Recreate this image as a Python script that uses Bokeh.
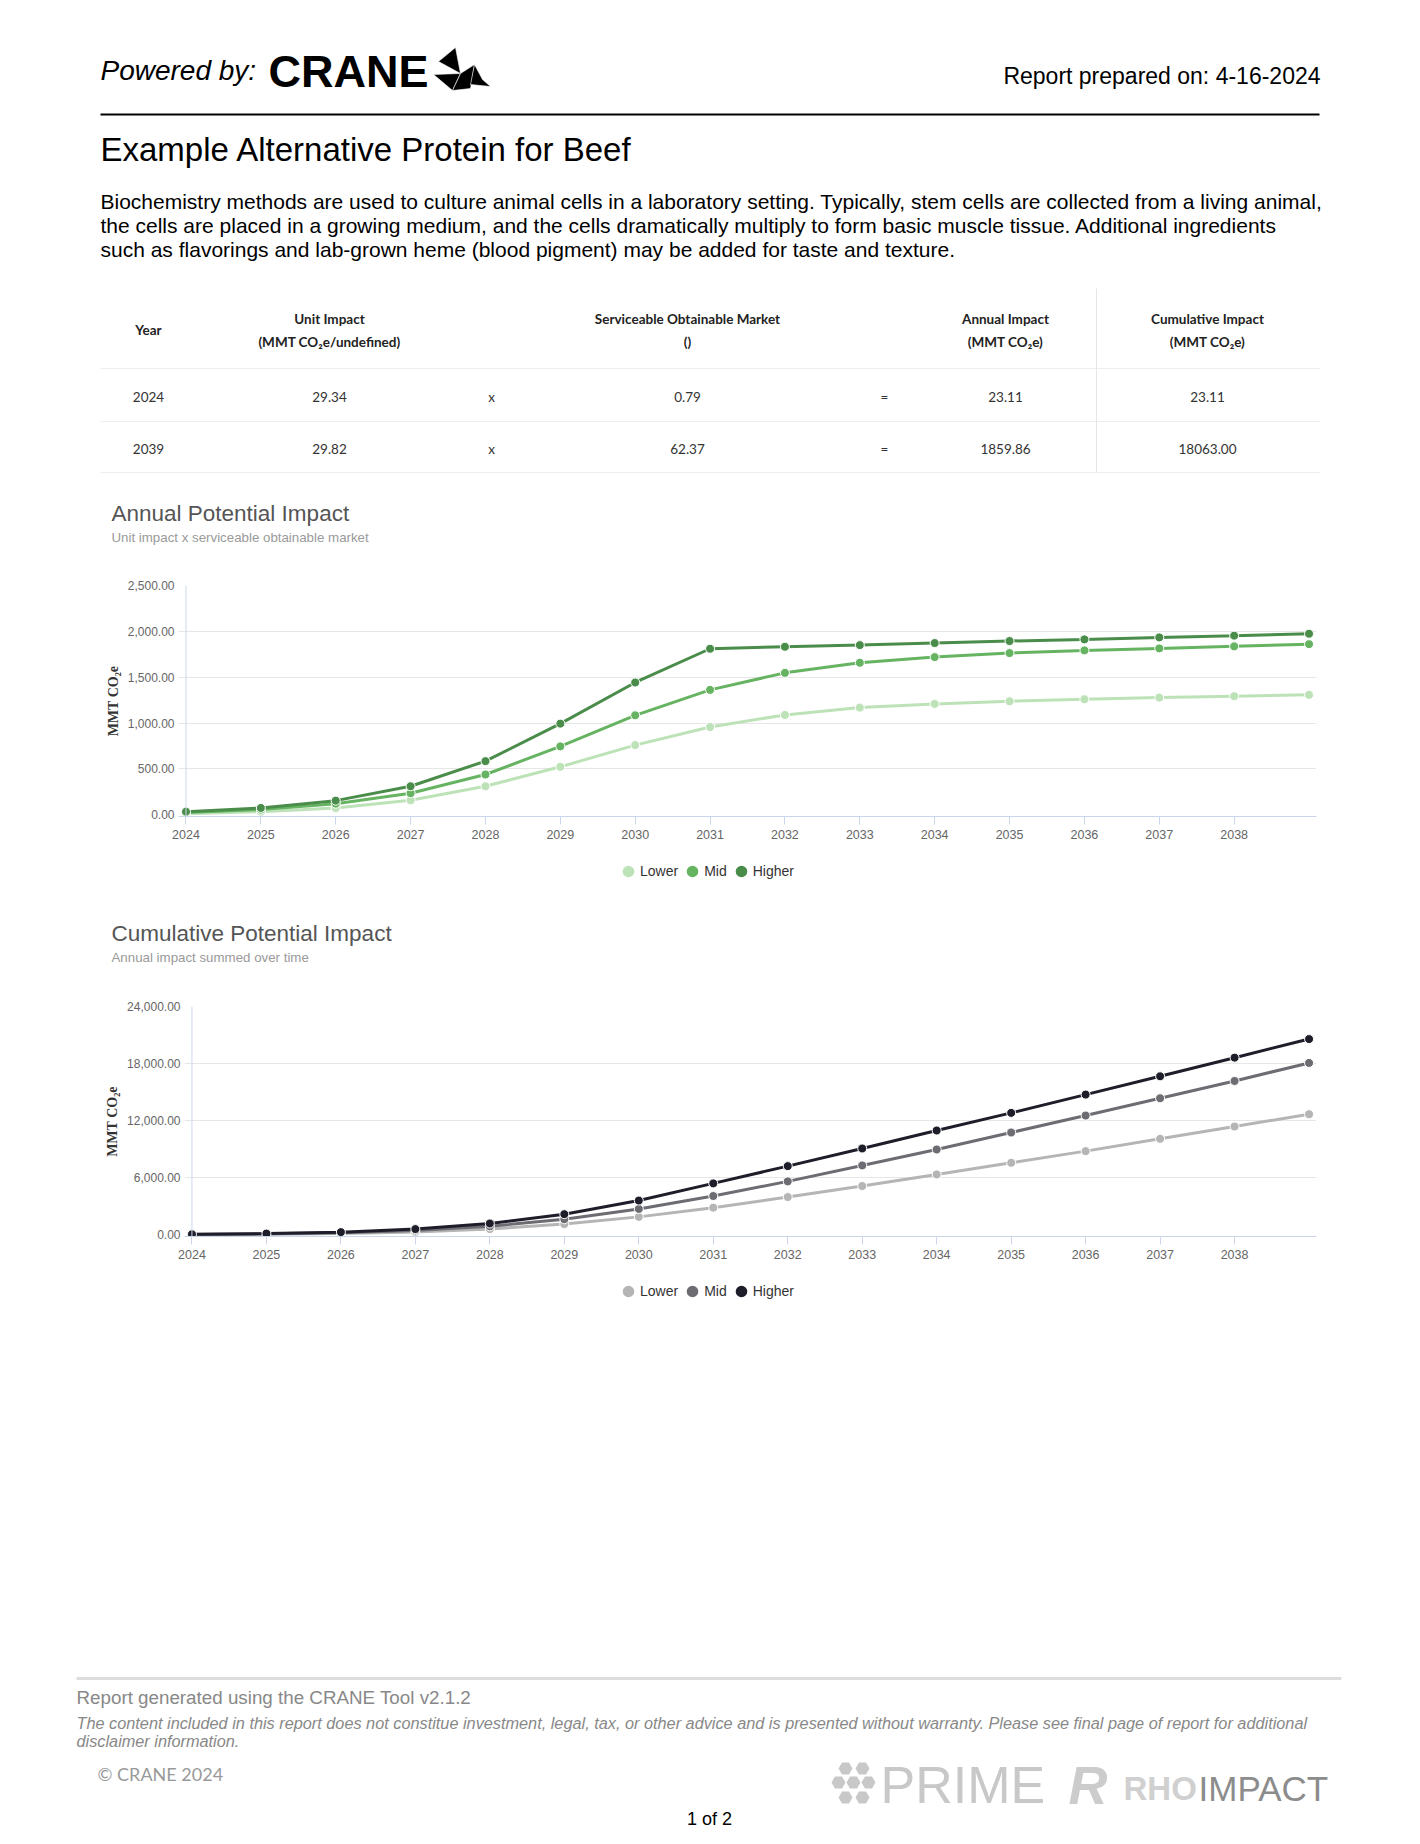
from bokeh.plotting import figure
from bokeh.models import Range1d, FixedTicker, NumeralTickFormatter, Legend, LegendItem, Span
from bokeh.layouts import column
from bokeh.core.properties import value
from bokeh.embed import file_html
from bokeh.resources import INLINE

# ---------------- data ----------------
years = [2024, 2025, 2026, 2027, 2028, 2029, 2030, 2031, 2032, 2033, 2034, 2035, 2036, 2037, 2038, 2039]
x_tick_years = [2024, 2025, 2026, 2027, 2028, 2029, 2030, 2031, 2032, 2033, 2034, 2035, 2036, 2037, 2038]
series_names = ["Lower", "Mid", "Higher"]

annual_lower = [11, 33, 73, 157, 310, 522, 759, 956, 1088, 1168, 1208, 1237, 1259, 1277, 1292, 1307]
annual_mid = [23, 55, 120, 234, 438, 745, 1084, 1361, 1547, 1657, 1719, 1763, 1792, 1814, 1836, 1860]
annual_higher = [33, 73, 153, 310, 584, 993, 1442, 1810, 1832, 1850, 1872, 1894, 1912, 1934, 1953, 1974]

cum_lower = [11, 44, 117, 274, 584, 1106, 1865, 2834, 3954, 5109, 6333, 7558, 8782, 10077, 11372, 12666]
cum_mid = [23, 78, 198, 432, 870, 1615, 2700, 4059, 5598, 7278, 8957, 10742, 12526, 14346, 16165, 18063]
cum_higher = [33, 105, 260, 580, 1170, 2150, 3580, 5389, 7208, 9062, 10952, 12807, 14731, 16656, 18616, 20575]

annual_y_ticks = [0, 500, 1000, 1500, 2000, 2500]
cum_y_ticks = [0, 6000, 12000, 18000, 24000]

table_headers = [("Year", ""), ("Unit Impact", "(MMT CO\u2082e/undefined)"),
                 ("Serviceable Obtainable Market", "()"),
                 ("Annual Impact", "(MMT CO\u2082e)"), ("Cumulative Impact", "(MMT CO\u2082e)")]
table_years = ["2024", "2039"]
unit_impact = ["29.34", "29.82"]
som_values = ["0.79", "62.37"]
annual_impact = ["23.11", "1859.86"]
cumulative_impact = ["23.11", "18063.00"]

annual_colors = ["#bde2b8", "#66b462", "#4a8c4a"]
cum_colors = ["#b5b5b5", "#6c6c72", "#1e1e2b"]

W = 1404
NAN = float("nan")


def text_fig(top, bottom):
    p = figure(width=W, height=bottom - top, x_range=Range1d(0, W), y_range=Range1d(bottom, top),
               output_backend="svg", toolbar_location=None, x_axis_type=None, y_axis_type=None,
               min_border=0, min_border_left=0, min_border_right=0, min_border_top=0,
               min_border_bottom=0, outline_line_color=None, background_fill_color="white",
               border_fill_color="white", frame_align=False)
    p.grid.visible = False
    return p


def txt(p, x, y, s, size, color="#000000", align="left", font="Liberation Sans", style="normal"):
    p.text(x=[x], y=[y], text=[s], text_font=value(font), text_font_size=size, text_color=color,
           text_align=align, text_baseline="middle", text_font_style=style)


def hline(p, x0, x1, y, color, width):
    p.segment(x0=[x0], y0=[y], x1=[x1], y1=[y], line_color=color, line_width=width)


def series_legend(p, colors, vy):
    items = []
    for name, c in zip(series_names, colors):
        r = p.scatter(x=[NAN], y=[NAN], marker="circle", fill_color=c, line_color=c, line_width=2)
        items.append(LegendItem(label=name, renderers=[r]))
    lg = Legend(items=items, orientation="horizontal", location=(616, vy),
                glyph_width=24, glyph_height=28, label_standoff=0, spacing=2, padding=0,
                margin=0, border_line_color=None, background_fill_alpha=0,
                label_text_font="Liberation Sans", label_text_font_size="14px",
                label_text_color="#333333")
    p.add_layout(lg)


# ---------------- header + table ----------------
f1 = text_fig(0, 575)
txt(f1, 100, 70, "Powered by:", "28px", "#000000", style="italic")
txt(f1, 268, 71, "CRANE", "45px", "#000000", style="bold")
bird_xs = [[438, 455, 460], [433, 460, 452], [460, 474, 470, 452], [470, 474, 482, 490]]
bird_ys = [[61, 47, 73], [74, 73, 90], [73, 64, 88, 90], [84, 64, 79, 86]]
f1.patches(bird_xs, bird_ys, fill_color="#000000", line_color="white", line_width=0.6)
txt(f1, 1320, 75, "Report prepared on: 4-16-2024", "23px", "#000000", align="right")
hline(f1, 100, 1319, 114, "#000000", 2)
txt(f1, 100, 149, "Example Alternative Protein for Beef", "33px", "#000000")
para = ["Biochemistry methods are used to culture animal cells in a laboratory setting. Typically, stem cells are collected from a living animal,",
        "the cells are placed in a growing medium, and the cells dramatically multiply to form basic muscle tissue. Additional ingredients",
        "such as flavorings and lab-grown heme (blood pigment) may be added for taste and texture."]
for i, line in enumerate(para):
    txt(f1, 100, 201 + 24 * i, line, "21px", "#000000")

col_x = [148, 329, 687, 1005, 1207]
for cx, (h1, h2) in zip(col_x, table_headers):
    if h2:
        txt(f1, cx, 318, h1, "13.5px", "#222222", align="center", font="Lato", style="bold")
        txt(f1, cx, 341, h2, "13.5px", "#222222", align="center", font="Lato", style="bold")
    else:
        txt(f1, cx, 329, h1, "13.5px", "#222222", align="center", font="Lato", style="bold")
row_y = [396, 448]
for i, ry in enumerate(row_y):
    vals = [table_years[i], unit_impact[i], som_values[i], annual_impact[i], cumulative_impact[i]]
    for cx, v in zip(col_x, vals):
        txt(f1, cx, ry, v, "13.5px", "#333333", align="center", font="Lato")
    txt(f1, 491, ry, "x", "13.5px", "#333333", align="center", font="Lato")
    txt(f1, 884, ry, "=", "13.5px", "#333333", align="center", font="Lato")
for ly in [368, 421, 472]:
    hline(f1, 100, 1319, ly, "#eeeeee", 1)
f1.segment(x0=[1096], y0=[288], x1=[1096], y1=[472], line_color="#e6e6e6", line_width=1)

txt(f1, 111, 513, "Annual Potential Impact", "22.5px", "#555555")
txt(f1, 111, 537, "Unit impact x serviceable obtainable market", "13.3px", "#9a9a9a")


# ---------------- charts ----------------
def chart(height, top_b, bottom_b, left_b, right_b, y_start, y_end, ticks, series, colors):
    p = figure(width=W, height=height, x_range=Range1d(2023.9, 2039.1), y_range=Range1d(y_start, y_end),
               output_backend="svg", toolbar_location=None, min_border_left=left_b,
               min_border_right=right_b, min_border_top=top_b, min_border_bottom=bottom_b,
               outline_line_color=None, background_fill_color="white", border_fill_color="white",
               frame_align=False)
    p.xgrid.grid_line_color = None
    p.ygrid.ticker = FixedTicker(ticks=ticks[1:])
    p.ygrid.grid_line_color = "#e6e6e6"
    p.ygrid.grid_line_width = 1

    p.xaxis.ticker = FixedTicker(ticks=x_tick_years)
    p.xaxis.major_label_overrides = {y: str(y) for y in x_tick_years}
    p.xaxis.axis_line_color = "#ccd6eb"
    p.xaxis.major_tick_line_color = "#ccd6eb"
    p.xaxis.major_tick_out = 8
    p.xaxis.major_tick_in = 0
    p.xaxis.minor_tick_line_color = None
    p.xaxis.major_label_standoff = 5
    p.xaxis.major_label_text_font = "Liberation Sans"
    p.xaxis.major_label_text_font_size = "12.5px"
    p.xaxis.major_label_text_color = "#666666"

    p.yaxis.ticker = FixedTicker(ticks=ticks)
    p.yaxis.formatter = NumeralTickFormatter(format="0,0.00")
    p.yaxis.axis_line_color = None
    p.yaxis.major_tick_line_color = None
    p.yaxis.minor_tick_line_color = None
    p.yaxis.major_tick_out = 0
    p.yaxis.major_tick_in = 0
    p.yaxis.major_label_standoff = 4
    p.yaxis.major_label_text_font = "Liberation Sans"
    p.yaxis.major_label_text_font_size = "12px"
    p.yaxis.major_label_text_color = "#666666"
    p.yaxis.axis_label = "MMT CO\u2082e"
    p.yaxis.axis_label_text_font = "Liberation Serif"
    p.yaxis.axis_label_text_font_style = "bold"
    p.yaxis.axis_label_text_font_size = "14px"
    p.yaxis.axis_label_text_color = "#333333"
    p.yaxis.axis_label_standoff = 4

    p.add_layout(Span(location=2024, dimension="height", line_color="#ccd6eb", line_width=1))

    for name, vals, c in zip(series_names, series, colors):
        p.line(years, vals, line_color=c, line_width=3)
        p.scatter(years, vals, size=9, fill_color=c, line_color="white", line_width=1)
    return p


c1 = chart(275, 10, 34, 178, 88, -20, 2500, annual_y_ticks,
           [annual_lower, annual_mid, annual_higher], annual_colors)

f2 = text_fig(850, 990)
series_legend(f2, annual_colors, 105)
txt(f2, 111, 933, "Cumulative Potential Impact", "22.5px", "#555555")
txt(f2, 111, 957, "Annual impact summed over time", "13.3px", "#9a9a9a")

c2 = chart(282, 16, 36, 184, 88, -200, 24000, cum_y_ticks,
           [cum_lower, cum_mid, cum_higher], cum_colors)

# ---------------- footer ----------------
f3 = text_fig(1272, 1840)
series_legend(f3, cum_colors, 535)
hline(f3, 76, 1341, 1678, "#dddddd", 3)
txt(f3, 76, 1697, "Report generated using the CRANE Tool v2.1.2", "18.8px", "#888888")
txt(f3, 76, 1722, "The content included in this report does not constitue investment, legal, tax, or other advice and is presented without warranty. Please see final page of report for additional",
    "16.3px", "#888888", style="italic")
txt(f3, 76, 1740, "disclaimer information.", "16.3px", "#888888", style="italic")
txt(f3, 97, 1773, "\u00a9 CRANE 2024", "18px", "#999999", font="Lato")
hex_x = [845, 862, 838, 853, 868, 845, 862]
hex_y = [1768, 1768, 1782, 1782, 1782, 1797, 1797]
f3.scatter(hex_x, hex_y, marker="hex", size=14, fill_color="#c8c8c8", line_color=None)
txt(f3, 880, 1784, "PRIME", "52px", "#c8c8c8")
txt(f3, 1068, 1784, "R", "54px", "#cccccc", style="bold italic")
txt(f3, 1123, 1788, "RHO", "33px", "#d0d0d0", style="bold")
txt(f3, 1198, 1788, "IMPACT", "35px", "#8c8c8c")
txt(f3, 709, 1818, "1 of 2", "18px", "#000000", align="center")

layout = column(f1, c1, f2, c2, f3, spacing=0)

with open("out.html", "w") as fh:
    fh.write(file_html(layout, INLINE, title="CRANE report"))
